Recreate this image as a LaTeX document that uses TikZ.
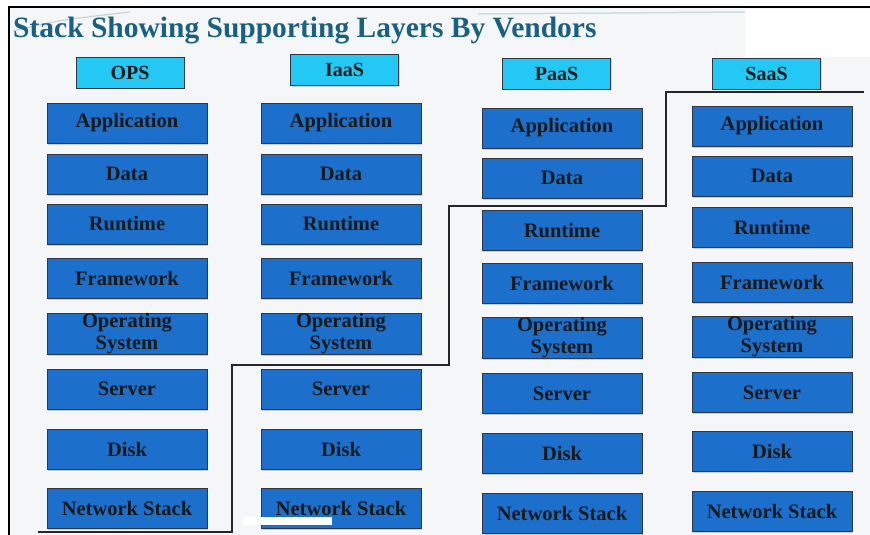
\documentclass[tikz,border=0pt]{standalone}
\usepackage{fontspec}
\setmainfont{Liberation Serif}
\usepackage{tikz}
\usetikzlibrary{shadows}
\definecolor{layerblue}{RGB}{28,111,203}
\definecolor{headcyan}{RGB}{36,200,244}
\definecolor{titleteal}{RGB}{26,96,128}
\definecolor{slidebg}{RGB}{245,246,248}
\definecolor{boxedge}{RGB}{45,55,70}
\tikzset{
  layer/.style={rectangle, draw=boxedge, fill=layerblue, minimum width=160pt, minimum height=40pt,
    inner sep=0pt, align=center, text=black!90, font=\fontsize{20.5}{16}\selectfont\bfseries,
    drop shadow={shadow xshift=1.2pt, shadow yshift=-1.5pt, opacity=0.35}},
  head/.style={rectangle, draw=boxedge, fill=headcyan, minimum width=108pt, minimum height=31pt,
    inner sep=0pt, text=black!90, font=\fontsize{20}{20}\selectfont\bfseries,
    drop shadow={shadow xshift=1pt, shadow yshift=-1.2pt, opacity=0.3}},
  stepline/.style={line width=2.3pt, black!85},
}

\begin{document}
\begin{tikzpicture}[x=1pt, y=-1pt]
  \useasboundingbox (0,0) rectangle (870,535);

  %% ============================================
  %% SLIDE BACKGROUND
  %% ============================================
  \fill[slidebg] (9,7) rectangle (870,535);
  \fill[white] (745,9) rectangle (870,57);
  \draw[line width=2.5pt] (9,535) -- (9,7) -- (870,7);

  % faint swooshes behind the title
  \draw[titleteal!40, line width=1.2pt, opacity=0.6] (13,31) .. controls (60,20) .. (130,12);
  \draw[teal!35, line width=1.5pt, opacity=0.6] (478,14) -- (745,12);

  % Title
  \node[anchor=base west, inner sep=0pt, text=titleteal, font=\fontsize{29.5}{30}\selectfont\bfseries]
    (title) at (13,38) {Stack Showing Supporting Layers By Vendors};

  %% ============================================
  %% VENDOR HEADERS
  %% ============================================
  \node[head] (ops)  at (130,72.5) {OPS};
  \node[head] (iaas) at (344.5,70) {IaaS};
  \node[head] (paas) at (556.5,73.5) {PaaS};
  \node[head] (saas) at (766.5,73.5) {SaaS};

  %% ============================================
  %% LAYER STACKS
  %% ============================================
  % OPS column
  \node[layer] (opsApp)  at (127,123)   {Application};
  \node[layer] (opsData) at (127,174)   {Data};
  \node[layer] (opsRun)  at (127,224)   {Runtime};
  \node[layer] (opsFw)   at (127,278.5) {Framework};
  \node[layer] (opsOs)   at (127,334)   {Operating\\[3pt]System};
  \node[layer] (opsSrv)  at (127,389)   {Server};
  \node[layer] (opsDisk) at (127,449)   {Disk};
  \node[layer] (opsNet)  at (127,508)   {Network Stack};

  % IaaS column
  \node[layer] (iaasApp)  at (341,123)   {Application};
  \node[layer] (iaasData) at (341,174)   {Data};
  \node[layer] (iaasRun)  at (341,224)   {Runtime};
  \node[layer] (iaasFw)   at (341,278.5) {Framework};
  \node[layer] (iaasOs)   at (341,334)   {Operating\\[3pt]System};
  \node[layer] (iaasSrv)  at (341,389)   {Server};
  \node[layer] (iaasDisk) at (341,449)   {Disk};
  \node[layer] (iaasNet)  at (341,508)   {Network Stack};

  % PaaS column
  \node[layer] (paasApp)  at (562,128)   {Application};
  \node[layer] (paasData) at (562,178)   {Data};
  \node[layer] (paasRun)  at (562,230.5) {Runtime};
  \node[layer] (paasFw)   at (562,283.5) {Framework};
  \node[layer] (paasOs)   at (562,338)   {Operating\\[3pt]System};
  \node[layer] (paasSrv)  at (562,393.5) {Server};
  \node[layer] (paasDisk) at (562,453)   {Disk};
  \node[layer] (paasNet)  at (562,513)   {Network Stack};

  % SaaS column
  \node[layer] (saasApp)  at (772,126)   {Application};
  \node[layer] (saasData) at (772,176)   {Data};
  \node[layer] (saasRun)  at (772,227.5) {Runtime};
  \node[layer] (saasFw)   at (772,282)   {Framework};
  \node[layer] (saasOs)   at (772,337)   {Operating\\[3pt]System};
  \node[layer] (saasSrv)  at (772,392.5) {Server};
  \node[layer] (saasDisk) at (772,451.5) {Disk};
  \node[layer] (saasNet)  at (772,511)   {Network Stack};

  % white patch over the IaaS network stack
  \fill[white] (243,517) rectangle (332,525);

  %% ============================================
  %% VENDOR BOUNDARY (staircase)
  %% ============================================
  \draw[stepline] (38,532) -- (232,532) -- (232,365) -- (449,365)
    -- (449,206) -- (666,206) -- (666,92) -- (864,92);
\end{tikzpicture}
\end{document}
